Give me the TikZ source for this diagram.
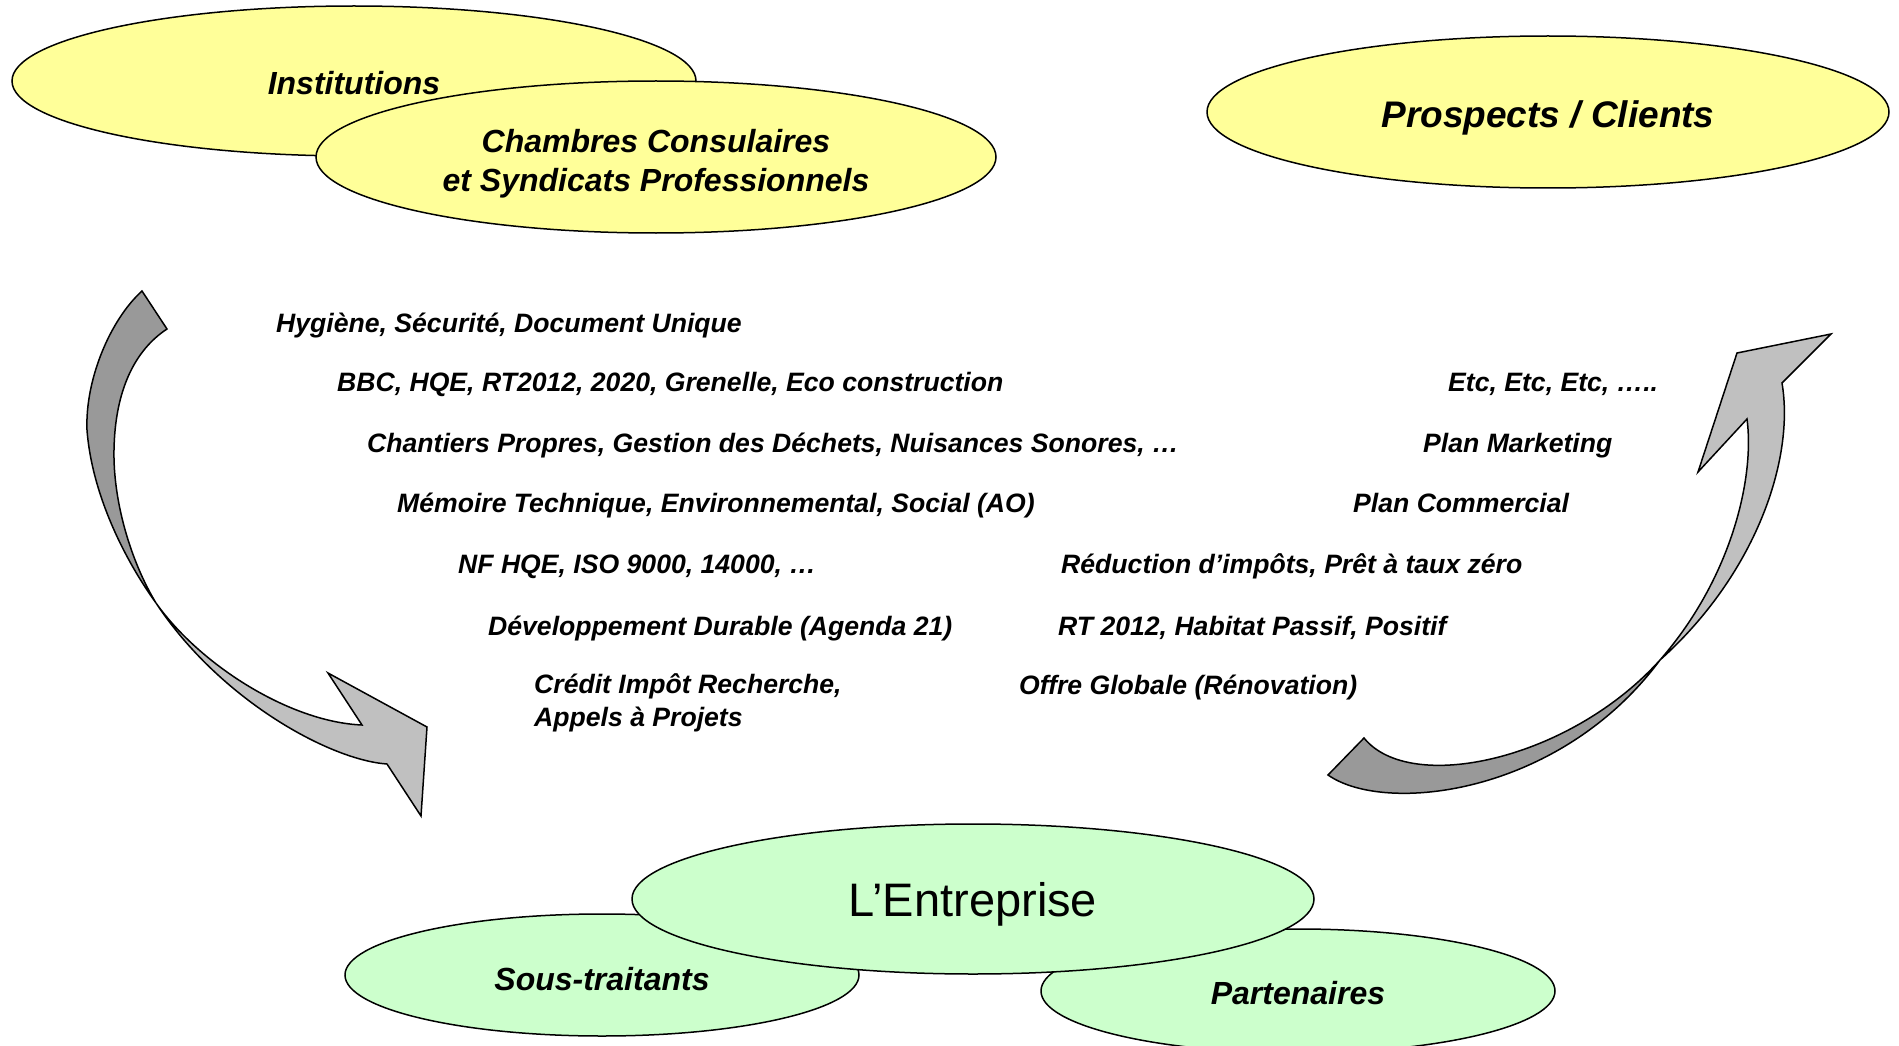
\documentclass[tikz,border=0pt]{standalone}
\usepackage{fontspec}
\setmainfont{Liberation Sans}
\usetikzlibrary{shapes.geometric}

\definecolor{bulleJaune}{HTML}{FFFF99}
\definecolor{bulleVerte}{HTML}{CCFFCC}
\definecolor{flecheClair}{HTML}{C0C0C0}
\definecolor{flecheFonce}{HTML}{999999}

\tikzset{
  bulle/.style={ellipse, draw=black, line width=1.5pt, inner sep=0pt, align=center,
    text height=31pt, text depth=0pt,
    font=\bfseries\itshape\fontsize{32}{39}\selectfont},
  jaune/.style={bulle, fill=bulleJaune},
  verte/.style={bulle, fill=bulleVerte},
  ligne/.style={anchor=west, inner sep=0pt, align=left,
    text height=20pt, text depth=6pt,
    font=\bfseries\itshape\fontsize{26.6}{32.7}\selectfont},
  fleche/.style={draw=black, line width=1.5pt, line join=miter},
}

\begin{document}
\begin{tikzpicture}[x=1pt, y=-1pt]
\useasboundingbox (0,0) rectangle (1899,1046);

% bulles du haut
\node[jaune, minimum width=684, minimum height=150, text height=27pt] (inst) at (354,81) {Institutions};
\node[jaune, minimum width=680, minimum height=152, text height=68pt] (cham) at (656,157)
  {Chambres Consulaires\\et Syndicats Professionnels};
\node[jaune, minimum width=682, minimum height=152,
  font=\bfseries\itshape\fontsize{37}{40}\selectfont] (pros) at (1548,112) {Prospects / Clients};

% fleche gauche
\filldraw[fleche, fill=flecheFonce] (142,291) .. controls (110,320) and (85,380) .. (87,430)
  .. controls (92,495) and (125,560) .. (156,603)
  .. controls (130,560) and (113,500) .. (114,450)
  .. controls (115,390) and (135,350) .. (167,329) -- cycle;
\filldraw[fleche, fill=flecheClair] (156,603) .. controls (200,665) and (290,722) .. (362,725)
  -- (328,673) -- (427,727) -- (421,816) -- (387,764)
  .. controls (330,760) and (220,700) .. (156,603) -- cycle;

% fleche droite
\filldraw[fleche, fill=flecheFonce] (1328,775) .. controls (1385,815) and (1560,795) .. (1660,660)
  .. controls (1570,760) and (1410,795) .. (1364,738) -- cycle;
\filldraw[fleche, fill=flecheClair] (1660,660) .. controls (1755,575) and (1795,460) .. (1782,383)
  -- (1831,334) -- (1737,353) -- (1698,472) -- (1747,419)
  .. controls (1755,480) and (1730,580) .. (1660,660) -- cycle;

% textes
\foreach \nom/\x/\y/\texte in {
  hyg/276/325/{Hygiène, Sécurité, Document Unique},
  bbc/337/384/{BBC, HQE, RT2012, 2020, Grenelle, Eco construction},
  chan/367/445/{Chantiers Propres, Gestion des Déchets, Nuisances Sonores, …},
  memo/397/505/{Mémoire Technique, Environnemental, Social (AO)},
  nfhqe/458/566/{NF HQE, ISO 9000, 14000, …},
  dev/488/628/{Développement Durable (Agenda 21)},
  etc/1448/384/{Etc, Etc, Etc, …..},
  mark/1423/445/{Plan Marketing},
  comm/1353/505/{Plan Commercial},
  redu/1061/566/{Réduction d’impôts, Prêt à taux zéro},
  rt/1058/628/{RT 2012, Habitat Passif, Positif},
  offre/1019/687/{Offre Globale (Rénovation)}}
  \node[ligne] (\nom) at (\x,\y) {\texte};
\node[ligne, text height=52.7pt] (cred) at (534,703) {Crédit Impôt Recherche,\\Appels à Projets};

% bulles du bas
\node[verte, minimum width=514, minimum height=122] (sous) at (602,975) {Sous-traitants};
\node[verte, minimum width=514, minimum height=124, text height=27pt] (part) at (1298,991) {Partenaires};
\node[verte, minimum width=682, minimum height=150, text height=35pt,
  font=\fontsize{47}{50}\selectfont] (entr) at (973,899) {L’Entreprise};
\end{tikzpicture}
\end{document}
